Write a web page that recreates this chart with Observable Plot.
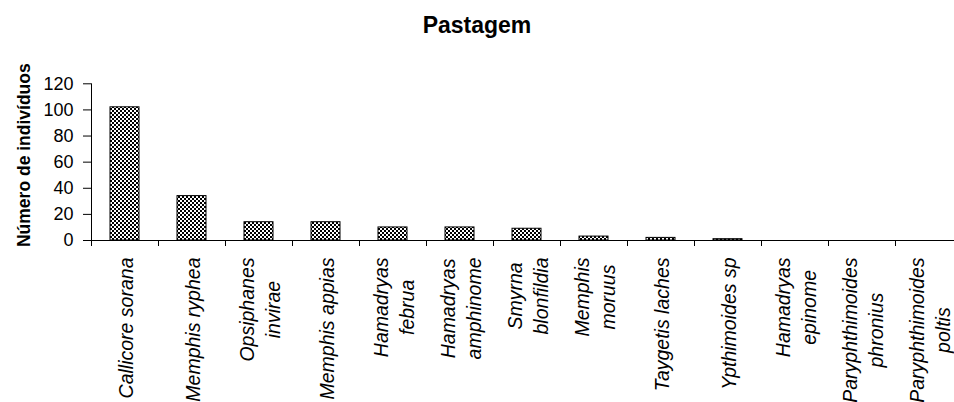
<!DOCTYPE html>
<html>
<head>
<meta charset="utf-8">
<script src="https://cdn.jsdelivr.net/npm/d3@7"></script>
<script src="https://cdn.jsdelivr.net/npm/@observablehq/plot@0.6"></script>
<style>
  html, body { margin: 0; padding: 0; background: #fff; overflow: hidden; }
  #title { box-sizing: border-box; height: 42px; padding-top: 13.5px; text-align: center;
           font: bold 23px "Liberation Sans", Arial, sans-serif; line-height: 23px; color: #000; }
  #chart svg { display: block; overflow: visible; }
</style>
</head>
<body>
<div id="title">Pastagem</div>
<div id="chart"></div>
<script>
const species = [
  "Callicore sorana", "Memphis ryphea", "Opsiphanes invirae", "Memphis appias",
  "Hamadryas februa", "Hamadryas amphinome", "Smyrna blonfildia", "Memphis moruus",
  "Taygetis laches", "Ypthimoides sp", "Hamadryas epinome", "Paryphthimoides phronius",
  "Paryphthimoides poltis"
];
const tickLabels = [
  "Callicore sorana", "Memphis ryphea", "Opsiphanes\ninvirae", "Memphis appias",
  "Hamadryas\nfebrua", "Hamadryas\namphinome", "Smyrna\nblonfildia", "Memphis\nmoruus",
  "Taygetis laches", "Ypthimoides sp", "Hamadryas\nepinome", "Paryphthimoides\nphronius",
  "Paryphthimoides\npoltis"
];
const counts = [102, 34, 14, 14, 10, 10, 9, 3, 2, 1, 0, 0, 0];
const yTicks = [0, 20, 40, 60, 80, 100, 120];
const yTitle = "Número de indivíduos";

const data = species.map((s, i) => ({species: s, count: counts[i]}));
const labelOf = new Map(species.map((s, i) => [s, tickLabels[i]]));

const width = 954, height = 360;
const marginLeft = 91, marginRight = -8, marginTop = 41.3, marginBottom = 162;
const step = (width - marginLeft - marginRight) / species.length;
const font = '"Liberation Sans", Arial, sans-serif';

const plot = Plot.plot({
  width, height, marginLeft, marginRight, marginTop, marginBottom,
  style: {fontFamily: font, color: "#000", background: "#fff", overflow: "visible"},
  x: {type: "band", domain: species, paddingInner: 0.57, paddingOuter: 0.285, axis: null},
  y: {domain: [0, 120], axis: null},
  marks: [
    Plot.barY(data, {x: "species", y: "count", fill: "url(#checker)", stroke: "#000", strokeWidth: 1}),
    Plot.ruleY([0], {stroke: "#000", strokeWidth: 1}),
    Plot.frame({anchor: "left", stroke: "#000", strokeWidth: 1}),
    Plot.axisY({ticks: yTicks, tickSize: 8, tickPadding: 10, fontSize: 18, label: null, stroke: "#000"}),
    Plot.axisX({tickSize: 6, dx: -step / 2, tickFormat: () => "", label: null, stroke: "#000"}),
    Plot.axisX({tickSize: 0, tickPadding: 17, tickRotate: -90, fontSize: 19.5, fontStyle: "italic",
                lineHeight: 1.33, tickFormat: d => labelOf.get(d), label: null}),
    Plot.text([yTitle], {frameAnchor: "left", rotate: -90, dx: -67, dy: -7, fontSize: 17.5,
                         fontWeight: "bold", textAnchor: "middle", lineAnchor: "middle", fill: "#000"})
  ]
});

// checkerboard pattern used by the bars
const ns = "http://www.w3.org/2000/svg";
const defs = document.createElementNS(ns, "defs");
defs.innerHTML = '<pattern id="checker" width="4" height="4" patternUnits="userSpaceOnUse">' +
  '<rect width="4" height="4" fill="#fff"/><rect width="2" height="2" fill="#000"/>' +
  '<rect x="2" y="2" width="2" height="2" fill="#000"/></pattern>';
plot.insertBefore(defs, plot.firstChild);

document.getElementById("chart").appendChild(plot);

// center the lines of the multi-line rotated labels relative to each other
// (labels are end-anchored; shift the shorter line by half the length difference)
plot.querySelectorAll("text").forEach(t => {
  const spans = t.querySelectorAll("tspan");
  if (spans.length < 2) return;
  const lens = Array.from(spans, s => s.getComputedTextLength());
  const max = Math.max(...lens);
  spans.forEach((s, i) => s.setAttribute("x", -(max - lens[i]) / 2));
});
</script>
</body>
</html>
